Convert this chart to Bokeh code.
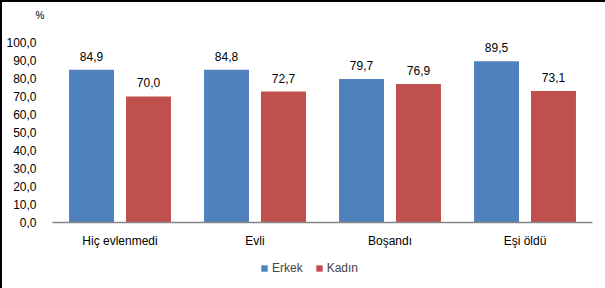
from bokeh.plotting import figure
from bokeh.models import FactorRange, Range1d, ColumnDataSource, Legend, LegendItem, FixedTicker
from bokeh.layouts import column
from bokeh.transform import dodge
from bokeh.core.properties import value
from bokeh.embed import file_html
from bokeh.resources import INLINE

categories = ["Hiç evlenmedi", "Evli", "Boşandı", "Eşi öldü"]
erkek = [84.9, 84.8, 79.7, 89.5]
kadin = [70.0, 72.7, 76.9, 73.1]
series_names = ["Erkek", "Kadın"]
y_ticks = [0, 10, 20, 30, 40, 50, 60, 70, 80, 90, 100]

FONT = "Liberation Sans"
BLUE = "#4F81BD"
RED = "#C0504D"

def fmt(v):
    return f"{v:.1f}".replace(".", ",")

src = ColumnDataSource(dict(
    cat=categories,
    erkek=erkek,
    kadin=kadin,
    erkek_lbl=[fmt(v) for v in erkek],
    kadin_lbl=[fmt(v) for v in kadin],
))

p = figure(width=603, height=254, output_backend="svg", toolbar_location=None,
           x_range=FactorRange(*categories, range_padding=0),
           y_range=Range1d(0, 112.2),
           min_border_left=50, min_border_right=13, min_border_top=18, min_border_bottom=34)
p.outline_line_color = None
p.grid.visible = False
p.background_fill_color = "white"
p.border_fill_color = "white"

# "%" unit label as title
p.title.text = "%"
p.title.align = "left"
p.title.offset = -17
p.title.standoff = 0
p.title.text_font = FONT
p.title.text_font_size = "10px"
p.title.text_font_style = "normal"
p.title.text_color = "black"

off = 0.211
w = 0.333
p.vbar(x=dodge("cat", -off, range=p.x_range), top="erkek", width=w, source=src,
       fill_color=BLUE, line_color=None)
p.vbar(x=dodge("cat", off, range=p.x_range), top="kadin", width=w, source=src,
       fill_color=RED, line_color=None)

p.text(x=dodge("cat", -off, range=p.x_range), y="erkek", text="erkek_lbl", source=src,
       text_align="center", text_baseline="bottom", y_offset=-9,
       text_font=value(FONT), text_font_size="12px", text_color="black")
p.text(x=dodge("cat", off, range=p.x_range), y="kadin", text="kadin_lbl", source=src,
       text_align="center", text_baseline="bottom", y_offset=-9,
       text_font=value(FONT), text_font_size="12px", text_color="black")

# y axis
p.yaxis.ticker = FixedTicker(ticks=y_ticks)
p.yaxis.major_label_overrides = {t: fmt(t) for t in y_ticks}
p.yaxis.axis_line_color = None
p.yaxis.major_tick_line_color = None
p.yaxis.minor_tick_line_color = None
p.yaxis.major_label_standoff = 10
p.yaxis.major_label_text_font = FONT
p.yaxis.major_label_text_font_size = "12px"
p.yaxis.major_label_text_color = "black"

# x axis
p.xaxis.axis_line_color = "#868686"
p.xaxis.axis_line_width = 1.5
p.xaxis.major_tick_line_color = None
p.xaxis.minor_tick_line_color = None
p.xaxis.major_label_standoff = 5
p.xaxis.major_label_text_font = FONT
p.xaxis.major_label_text_font_size = "12px"
p.xaxis.major_label_text_color = "black"

# legend strip (proxy glyphs lie outside the visible range)
pl = figure(width=603, height=32, output_backend="svg", toolbar_location=None,
            x_axis_location=None, y_axis_location=None,
            x_range=Range1d(0, 1), y_range=Range1d(0, 1),
            min_border=0)
pl.outline_line_color = None
pl.grid.visible = False
proxy = ColumnDataSource(dict(x=[-10], top=[-10]))
l1 = pl.vbar(x="x", top="top", width=1, source=proxy, fill_color=BLUE, line_color=None)
l2 = pl.vbar(x="x", top="top", width=1, source=proxy, fill_color=RED, line_color=None)
legend = Legend(items=[LegendItem(label=series_names[0], renderers=[l1]),
                       LegendItem(label=series_names[1], renderers=[l2])],
                orientation="horizontal", location=(208, 13),
                glyph_width=8, glyph_height=8, label_standoff=4, spacing=12,
                label_text_font=FONT, label_text_font_size="12px",
                border_line_color=None, background_fill_alpha=0, padding=0, margin=0)
pl.add_layout(legend, "center")

layout = column(p, pl, spacing=0,
                styles={"border-top": "2px solid black", "border-left": "2px solid black"})

open("out.html", "w").write(file_html(layout, INLINE))
